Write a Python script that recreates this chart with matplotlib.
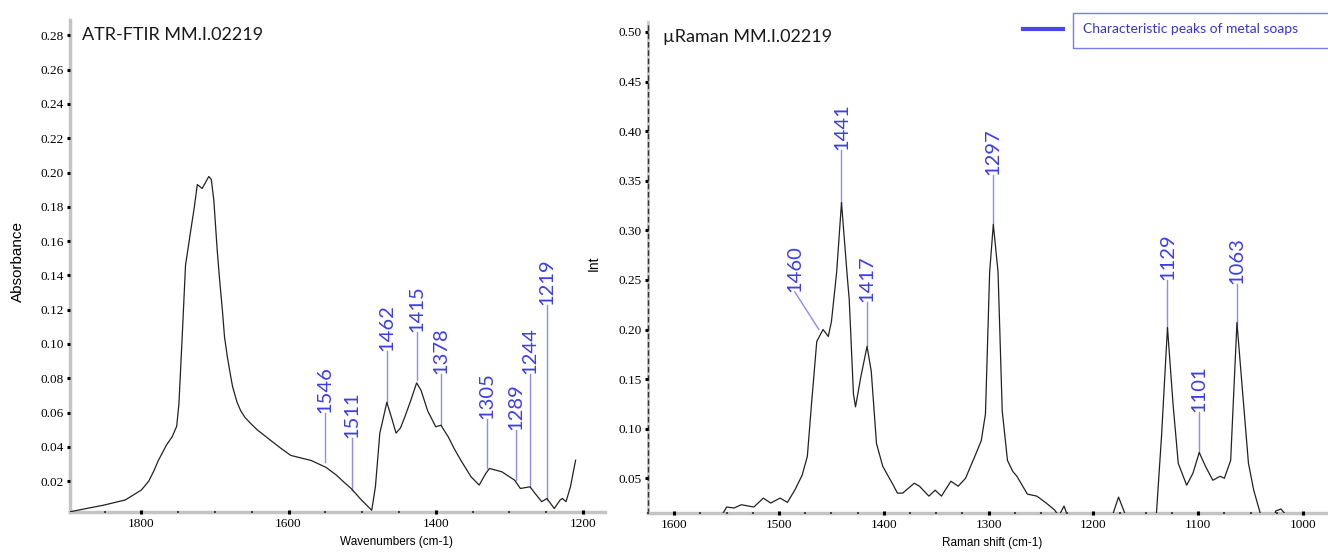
import matplotlib
matplotlib.use("Agg")
import matplotlib.pyplot as plt
from matplotlib.lines import Line2D
from matplotlib.patches import Rectangle
from matplotlib.ticker import MultipleLocator

# ATR-FTIR spectrum (wavenumber cm-1, absorbance)
ftir_wn = [1897, 1875, 1851, 1822, 1800, 1790, 1783, 1777, 1766, 1758, 1752, 1749,
           1745, 1740, 1733, 1728, 1724, 1717.4, 1708.4, 1705, 1701.6, 1697, 1694,
           1690, 1687, 1683, 1679, 1676, 1670, 1665, 1659, 1650, 1642, 1625, 1610,
           1597, 1583, 1569, 1549, 1535, 1525, 1515, 1501, 1487, 1482, 1476, 1473,
           1466.5, 1459, 1454, 1448, 1442, 1434, 1426, 1420, 1411, 1400, 1393, 1383,
           1375, 1366, 1352, 1341, 1332, 1327, 1310, 1293, 1285, 1272, 1265, 1256,
           1249, 1239, 1231, 1228, 1223, 1217, 1210]
ftir_abs = [0.0021, 0.004, 0.006, 0.009, 0.0148, 0.020, 0.026, 0.032, 0.041, 0.046,
            0.052, 0.065, 0.100, 0.146, 0.166, 0.180, 0.193, 0.1907, 0.1977, 0.196,
            0.184, 0.155, 0.139, 0.120, 0.104, 0.092, 0.082, 0.075, 0.066, 0.061,
            0.057, 0.053, 0.0497, 0.044, 0.039, 0.035, 0.0335, 0.032, 0.028, 0.0235,
            0.0195, 0.0157, 0.009, 0.003, 0.0167, 0.048, 0.0536, 0.066, 0.0555,
            0.048, 0.051, 0.0575, 0.067, 0.0773, 0.073, 0.061, 0.0517, 0.0526,
            0.0458, 0.039, 0.0322, 0.0225, 0.0177, 0.0245, 0.0274, 0.0254, 0.0206,
            0.0157, 0.0167, 0.0128, 0.008, 0.0099, 0.004, 0.009, 0.0099, 0.008,
            0.0167, 0.0322]

ftir_peak_labels = ["1546", "1511", "1462", "1415", "1378", "1305", "1289", "1244", "1219"]
ftir_peak_pos = [1551, 1514, 1466.5, 1426, 1393, 1330, 1291, 1272, 1249]
ftir_line_from = [0.031, 0.0148, 0.066, 0.079, 0.0526, 0.0274, 0.0206, 0.0167, 0.009]
ftir_line_to = [0.060, 0.045, 0.096, 0.107, 0.0827, 0.0565, 0.050, 0.0827, 0.1226]

# micro-Raman spectrum (Raman shift cm-1, intensity)
raman_wn = [1560, 1555, 1550, 1543, 1536, 1524, 1515, 1508, 1499, 1492, 1485, 1478,
            1473, 1469, 1464, 1458, 1453, 1450, 1445, 1440.4, 1435, 1433, 1429, 1427,
            1422, 1416, 1412, 1407, 1401, 1392, 1387, 1382, 1371, 1366, 1357, 1351,
            1345, 1336, 1329, 1322, 1312, 1307, 1303, 1299, 1295.5, 1291, 1287, 1282,
            1277, 1273, 1263, 1254, 1245, 1237, 1233, 1228, 1224, 1215, 1190, 1182,
            1176, 1169, 1160, 1145, 1140, 1135, 1129.3, 1124, 1119, 1111, 1105, 1099,
            1093, 1086, 1079, 1075, 1069, 1063, 1058, 1052, 1047, 1040, 1035, 1030,
            1026, 1021, 1017, 1010, 985]
raman_int = [0.0, 0.012, 0.021, 0.020, 0.0233, 0.021, 0.030, 0.025, 0.030, 0.0257,
             0.038, 0.053, 0.072, 0.125, 0.188, 0.200, 0.193, 0.208, 0.258, 0.328,
             0.255, 0.230, 0.135, 0.122, 0.152, 0.183, 0.158, 0.085, 0.062, 0.045,
             0.035, 0.035, 0.045, 0.042, 0.032, 0.038, 0.032, 0.047, 0.042, 0.050,
             0.075, 0.088, 0.115, 0.258, 0.306, 0.258, 0.118, 0.068, 0.057, 0.052,
             0.034, 0.032, 0.025, 0.018, 0.012, 0.022, 0.010, 0.0, 0.0, 0.012, 0.031,
             0.012, 0.0, 0.0, 0.012, 0.092, 0.202, 0.125, 0.065, 0.043, 0.055, 0.076,
             0.062, 0.048, 0.052, 0.050, 0.068, 0.207, 0.142, 0.065, 0.038, 0.012, 0.0,
             0.0, 0.017, 0.019, 0.014, 0.0, 0.0]

raman_peak_labels = ["1460", "1441", "1417", "1297", "1129", "1101", "1063"]
raman_peak_pos = [1462, 1440.4, 1416.4, 1295.5, 1129.3, 1099, 1063]
raman_label_pos = [1485, 1440.4, 1416.4, 1295.5, 1129.3, 1099, 1063]
raman_line_from = [0.200, 0.328, 0.183, 0.306, 0.201, 0.0757, 0.205]
raman_line_to = [0.238, 0.381, 0.228, 0.356, 0.250, 0.1167, 0.246]

BLUE_TXT = "#3c3cf0"
BLUE_LINE = "#8c8cf5"
SANS = ["Lato", "DejaVu Sans"]
SERIF = "Liberation Serif"
AXLAB = ["Liberation Sans Narrow", "Liberation Sans", "DejaVu Sans"]

fig = plt.figure(figsize=(13.28, 5.52), dpi=100)
ax1 = fig.add_axes([0.0527, 0.0725, 0.4029, 0.8913])
ax2 = fig.add_axes([0.488, 0.0707, 0.5105, 0.8893])


def style_axis(ax, dashed_left=False):
    for s in ("top", "right"):
        ax.spines[s].set_visible(False)
    ax.spines["bottom"].set_color("#c4c4c4")
    ax.spines["bottom"].set_linewidth(2.5)
    if dashed_left:
        ax.plot([0, 0], [0, 1], transform=ax.transAxes, color="#d0d0d0", lw=2.2,
                clip_on=False, zorder=1)
        ax.spines["left"].set_color("#333333")
        ax.spines["left"].set_linewidth(1.0)
        ax.spines["left"].set_linestyle((0, (3, 3)))
    else:
        ax.spines["left"].set_color("#c4c4c4")
        ax.spines["left"].set_linewidth(2.5)
    # ticks drawn over the grey spines
    ax.xaxis.set_zorder(3)
    ax.yaxis.set_zorder(3)
    ax.tick_params(axis="x", which="major", direction="inout", length=3, width=2.2,
                   color="black", pad=3, labelsize=9.5)
    ax.tick_params(axis="x", which="minor", direction="inout", length=2, width=1.5,
                   color="#444444")
    ax.tick_params(axis="y", which="major", direction="out", length=2.5, width=2.2,
                   color="black", pad=2, labelsize=9.5)
    ax.tick_params(axis="y", which="minor", length=0)
    for lab in ax.get_xticklabels() + ax.get_yticklabels():
        lab.set_fontfamily(SERIF)


# ---- left: ATR-FTIR
ax1.plot(ftir_wn, ftir_abs, color="#222222", lw=0.9, zorder=3)
ax1.set_xlim(1897, 1170)
ax1.set_ylim(0.002, 0.289)
ax1.xaxis.set_major_locator(MultipleLocator(200))
ax1.xaxis.set_minor_locator(MultipleLocator(50))
ax1.yaxis.set_major_locator(MultipleLocator(0.02))
ax1.yaxis.set_major_formatter(lambda v, p: f"{v:.2f}" if v > 0.01 else "")
style_axis(ax1)
for lab, x, y0, y1 in zip(ftir_peak_labels, ftir_peak_pos, ftir_line_from, ftir_line_to):
    ax1.plot([x, x], [y0, y1], color=BLUE_LINE, lw=1.0, zorder=2)
    ax1.text(x, y1, lab, rotation=90, ha="center", va="bottom", color=BLUE_TXT,
             fontsize=14.5, family=SANS)
ax1.text(0.022, 0.985, "ATR-FTIR MM.I.02219", transform=ax1.transAxes, ha="left",
         va="top", fontsize=13, family=SANS, color="#1a1a1a")
fig.text(396 / 1328, 1 - 542 / 552, "Wavenumbers (cm-1)", ha="center", va="center",
         fontsize=8.5, family=AXLAB)
fig.text(18 / 1328, 1 - 262 / 552, "Absorbance", rotation=90, ha="center",
         va="center", fontsize=11, family=AXLAB)

# ---- right: micro-Raman
ax2.plot(raman_wn, raman_int, color="#222222", lw=0.9, zorder=3)
ax2.set_xlim(1625, 978)
ax2.set_ylim(0.015, 0.51)
ax2.xaxis.set_major_locator(MultipleLocator(100))
ax2.xaxis.set_minor_locator(MultipleLocator(25))
ax2.yaxis.set_major_locator(MultipleLocator(0.05))
ax2.yaxis.set_major_formatter(lambda v, p: f"{v:.2f}")
style_axis(ax2, dashed_left=True)
for lab, xp, xl, y0, y1 in zip(raman_peak_labels, raman_peak_pos, raman_label_pos,
                               raman_line_from, raman_line_to):
    ax2.plot([xp, xl], [y0, y1], color=BLUE_LINE, lw=1.0, zorder=2)
    ax2.text(xl, y1, lab, rotation=90, ha="center", va="bottom", color=BLUE_TXT,
             fontsize=14.5, family=SANS)
ax2.text(0.022, 0.985, "µRaman MM.I.02219", transform=ax2.transAxes, ha="left",
         va="top", fontsize=13, family=SANS, color="#1a1a1a")
fig.text(992 / 1328, 1 - 543 / 552, "Raman shift (cm-1)", ha="center", va="center",
         fontsize=8.5, family=AXLAB)
fig.text(594 / 1328, 1 - 263 / 552, "Int", rotation=90, ha="center", va="center",
         fontsize=10, family=AXLAB)

# legend-like key, top right
fig.add_artist(Line2D([1023 / 1328, 1063 / 1328], [1 - 29 / 552, 1 - 29 / 552],
                      transform=fig.transFigure, color="#4848ee", lw=3))
fig.add_artist(Rectangle((1073 / 1328, 1 - 48 / 552), 260 / 1328, 35 / 552,
                         transform=fig.transFigure, fill=False, edgecolor="#7a7af0",
                         lw=1.0))
fig.text(1083 / 1328, 1 - 29 / 552, "Characteristic peaks of metal soaps", ha="left",
         va="center", fontsize=10, family=SANS, color="#3434d8")

fig.savefig("out.png", dpi=100)
